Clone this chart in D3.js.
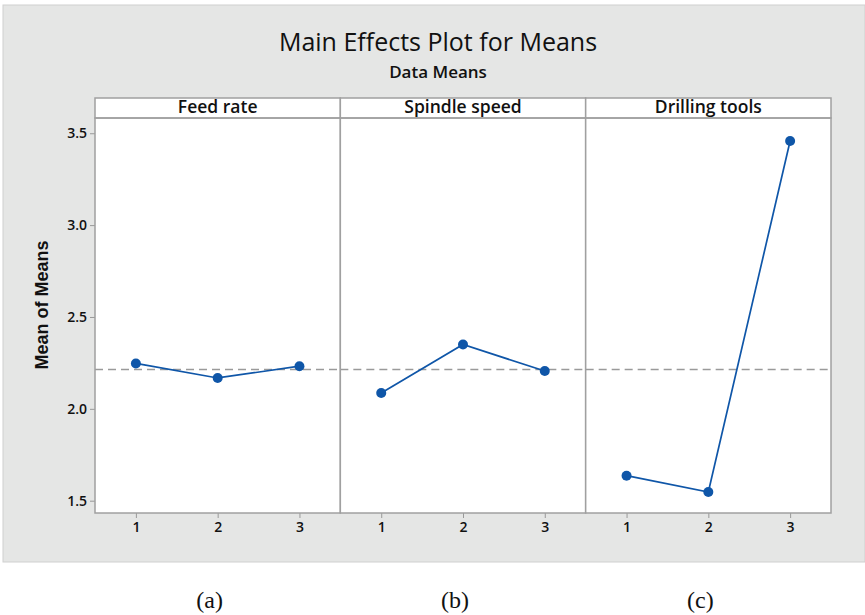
<!DOCTYPE html>
<html>
<head>
<meta charset="utf-8">
<script src="https://cdn.jsdelivr.net/npm/d3@7"></script>
<style>
  body { margin: 0; background: #fff; }
  text { font-family: "Open Sans", "Noto Sans", sans-serif; fill: #111; }
</style>
</head>
<body>
<svg id="chart" width="865" height="615"></svg>
<script>
// factors and their level means
var factors = ['Feed rate', 'Spindle speed', 'Drilling tools'];
var levels = [1, 2, 3];
var feedRate = [2.247, 2.168, 2.232];
var spindleSpeed = [2.086, 2.350, 2.206];
var drillingTools = [1.636, 1.547, 3.458];
var grandMean = 2.214;
var yTicks = [1.5, 2.0, 2.5, 3.0, 3.5];
var panelLabels = ['(a)', '(b)', '(c)'];

var series = [feedRate, spindleSpeed, drillingTools];

var svg = d3.select('#chart');

// gray background panel
svg.append('rect')
  .attr('x', 3).attr('y', 5)
  .attr('width', 862).attr('height', 557)
  .attr('fill', '#e5e6e5')
  .attr('stroke', '#cfd0cf');

// titles
svg.append('text')
  .attr('x', 438).attr('y', 51)
  .attr('text-anchor', 'middle')
  .style('font-size', '25px')
  .text('Main Effects Plot for Means');

svg.append('text')
  .attr('x', 438).attr('y', 78)
  .attr('text-anchor', 'middle')
  .style('font-size', '17px')
  .style('font-weight', 600)
  .text('Data Means');

var plotLeft = 95, plotRight = 831, stripTop = 98, plotTop = 118, plotBottom = 513;
var panelW = (plotRight - plotLeft) / factors.length;

var y = d3.scaleLinear().domain([1.433, 3.583]).range([plotBottom, plotTop]);

// y axis
var yAxis = svg.append('g')
  .attr('transform', 'translate(' + plotLeft + ',0)')
  .call(d3.axisLeft(y).tickValues(yTicks).tickFormat(d3.format('.1f')).tickSize(5).tickPadding(3));
yAxis.select('.domain').remove();
yAxis.selectAll('line').attr('stroke', '#999');
yAxis.selectAll('text').style('font-size', '14px').style('font-weight', 600)
  .style('font-family', '"Open Sans", sans-serif').attr('fill', '#111');

svg.append('text')
  .attr('transform', 'translate(48,305) rotate(-90)')
  .attr('text-anchor', 'middle')
  .style('font-family', '"Liberation Sans", Arial, sans-serif')
  .style('font-size', '18px')
  .style('font-weight', 'bold')
  .text('Mean of Means');

var line = d3.line();

factors.forEach(function(name, i) {
  var x0 = plotLeft + i * panelW;
  var x = d3.scaleLinear().domain([0.5, 3.5]).range([x0, x0 + panelW]);

  // panel background
  svg.append('rect')
    .attr('x', x0).attr('y', plotTop)
    .attr('width', panelW).attr('height', plotBottom - plotTop)
    .attr('fill', '#fff');

  // strip
  svg.append('rect')
    .attr('x', x0).attr('y', stripTop)
    .attr('width', panelW).attr('height', plotTop - stripTop)
    .attr('fill', '#fff')
    .attr('stroke', '#a0a0a0').attr('stroke-width', 1.5);

  svg.append('text')
    .attr('x', x0 + panelW / 2).attr('y', stripTop + 15)
    .attr('text-anchor', 'middle')
    .style('font-size', '17.5px')
    .style('font-weight', 600)
    .text(name);

  // x axis
  var xAxis = svg.append('g')
    .attr('transform', 'translate(0,' + plotBottom + ')')
    .call(d3.axisBottom(x).tickValues(levels).tickFormat(d3.format('d')).tickSize(5).tickPadding(4));
  xAxis.select('.domain').remove();
  xAxis.selectAll('line').attr('stroke', '#999');
  xAxis.selectAll('text').style('font-size', '14px').style('font-weight', 600)
    .style('font-family', '"Open Sans", sans-serif').attr('fill', '#111');

  // reference line
  svg.append('line')
    .attr('x1', x0).attr('x2', x0 + panelW)
    .attr('y1', y(grandMean)).attr('y2', y(grandMean))
    .attr('stroke', '#9a9a9a').attr('stroke-width', 1.6)
    .attr('stroke-dasharray', '8,5');

  var pts = levels.map(function(l, j) { return [x(l), y(series[i][j])]; });

  svg.append('path')
    .attr('d', line(pts))
    .attr('fill', 'none')
    .attr('stroke', '#0f56a8')
    .attr('stroke-width', 1.7);

  svg.selectAll(null).data(pts).enter()
    .append('circle')
    .attr('cx', function(d) { return d[0]; })
    .attr('cy', function(d) { return d[1]; })
    .attr('r', 5)
    .attr('fill', '#0f56a8');

  // panel frame
  svg.append('rect')
    .attr('x', x0).attr('y', plotTop)
    .attr('width', panelW).attr('height', plotBottom - plotTop)
    .attr('fill', 'none')
    .attr('stroke', '#a0a0a0').attr('stroke-width', 1.5);

  svg.append('text')
    .attr('x', x0 + panelW / 2 - 8).attr('y', 608)
    .attr('text-anchor', 'middle')
    .style('font-family', '"Liberation Serif", "DejaVu Serif", serif')
    .style('font-size', '24px')
    .text(panelLabels[i]);
});
</script>
</body>
</html>
